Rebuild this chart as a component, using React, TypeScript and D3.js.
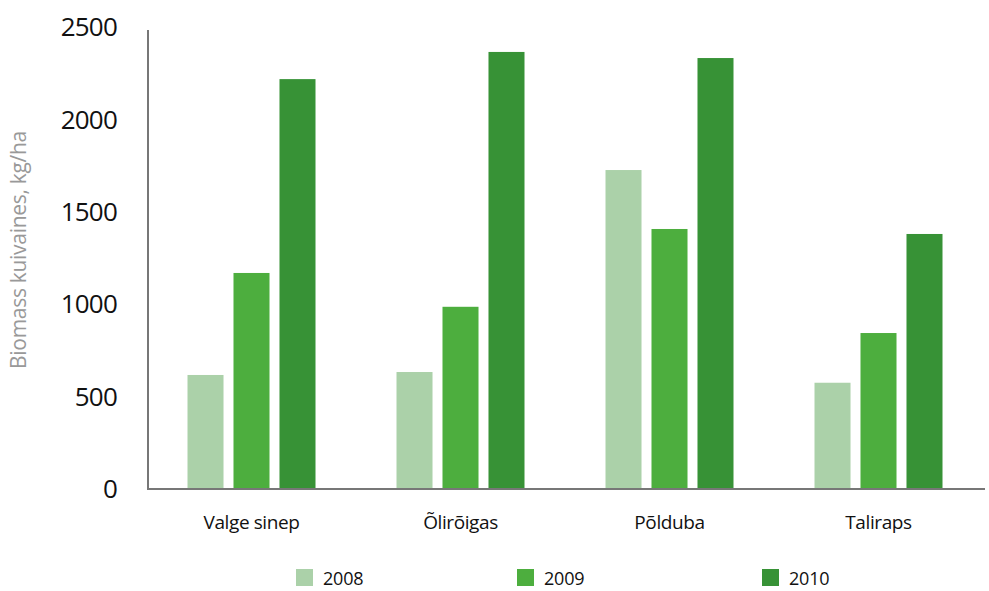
import React from "react";
import * as d3 from "d3";

const categories = ["Valge sinep", "Õlirõigas", "Põlduba", "Taliraps"];
const years = ["2008", "2009", "2010"];
const values2008 = [617, 633, 1726, 575];
const values2009 = [1169, 986, 1407, 844];
const values2010 = [2218, 2365, 2332, 1380];
const yTicks = [0, 500, 1000, 1500, 2000, 2500];
const colors = ["#abd1a9", "#4dae3e", "#379236"];
const yLabel = "Biomass kuivaines, kg/ha";

const W = 989;
const H = 591;

export default function App() {
  const series = [values2008, values2009, values2010];
  const x = d3.scaleBand<string>().domain(categories).range([147, 983]).padding(0);
  const xi = d3
    .scaleBand<string>()
    .domain(years)
    .range([40.5, 168.5])
    .paddingInner(0.217)
    .paddingOuter(0);
  const y = d3.scaleLinear().domain([0, 2500]).range([489, 27]);
  const font = "'Open Sans', 'Noto Sans', sans-serif";
  const legendX = [296, 517, 762];

  return (
    <svg
      width={W}
      height={H}
      style={{ position: "absolute", left: 0, top: 0, background: "#fff" }}
      fontFamily={font}
    >
      {categories.map((c, ci) =>
        years.map((yr, si) => {
          const v = series[si][ci];
          return (
            <rect
              key={c + yr}
              x={(x(c) ?? 0) + (xi(yr) ?? 0)}
              y={y(v)}
              width={xi.bandwidth()}
              height={y(0) - y(v)}
              fill={colors[si]}
            />
          );
        })
      )}
      <line x1={148} x2={148} y1={30} y2={490} stroke="#777" strokeWidth={2} />
      <line x1={147} x2={985} y1={489} y2={489} stroke="#777" strokeWidth={2} />
      {yTicks.map((t) => (
        <text
          key={t}
          x={117}
          y={y(t)}
          dy="0.35em"
          textAnchor="end"
          fontSize={26}
          fill="#111"
          style={{ letterSpacing: "-0.8px" }}
        >
          {t}
        </text>
      ))}
      <text
        transform={`translate(26,250) rotate(-90)`}
        textAnchor="middle"
        fontSize={21}
        fill="#999"
        style={{ letterSpacing: "-0.3px" }}
      >
        {yLabel}
      </text>
      {categories.map((c) => (
        <text
          key={c}
          x={(x(c) ?? 0) + x.bandwidth() / 2}
          y={529}
          textAnchor="middle"
          fontSize={19}
          fill="#111"
          style={{ letterSpacing: "-0.4px" }}
        >
          {c}
        </text>
      ))}
      {years.map((yr, i) => (
        <g key={yr}>
          <rect x={legendX[i]} y={569} width={17} height={17} fill={colors[i]} />
          <text x={legendX[i] + 27} y={585} fontSize={18} fill="#111" style={{ letterSpacing: "-0.2px" }}>
            {yr}
          </text>
        </g>
      ))}
    </svg>
  );
}
